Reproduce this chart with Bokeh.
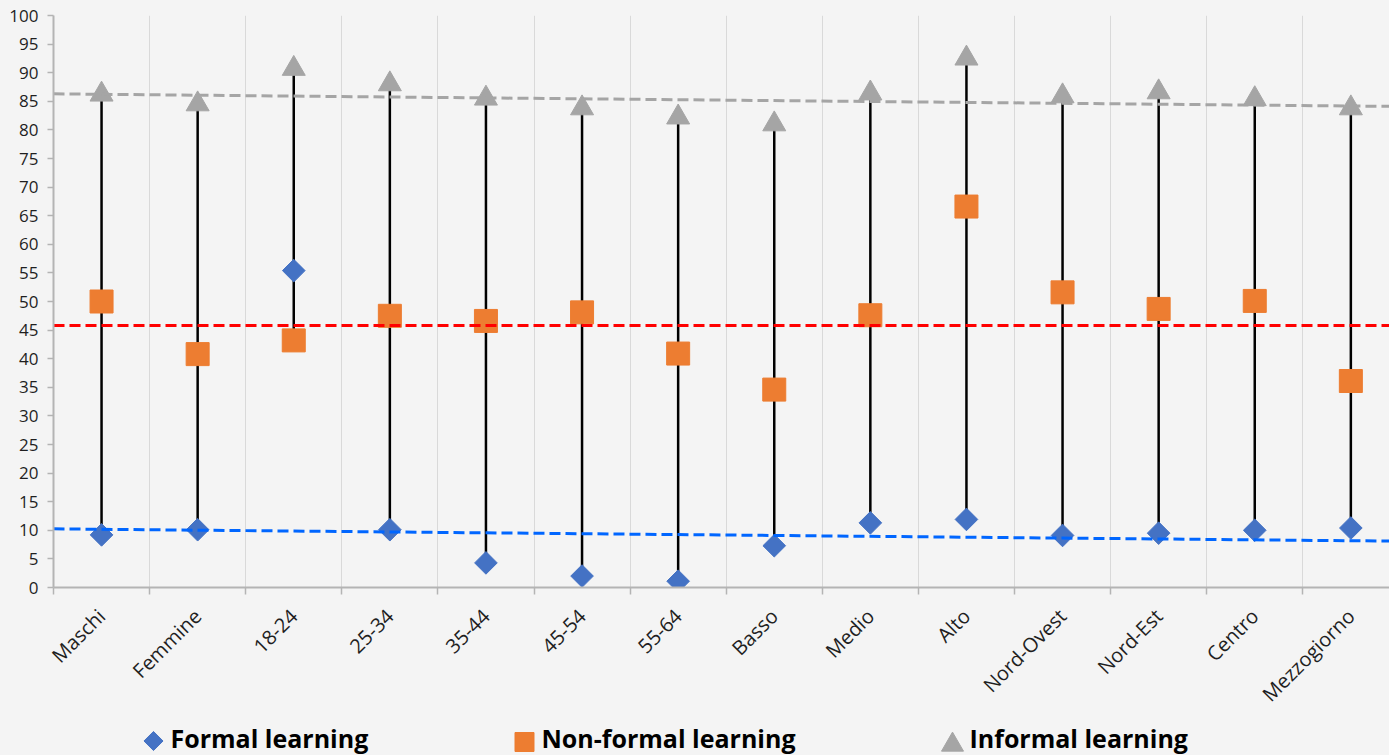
import numpy as np
from bokeh.plotting import figure
from bokeh.layouts import column
from bokeh.models import Range1d, FixedTicker, ColumnDataSource
from bokeh.core.properties import value
from bokeh.embed import file_html
from bokeh.resources import INLINE

# Participation rates (%) by group
categories = ["Maschi", "Femmine", "18-24", "25-34", "35-44", "45-54", "55-64",
              "Basso", "Medio", "Alto", "Nord-Ovest", "Nord-Est", "Centro", "Mezzogiorno"]
formal = [9.2, 10.1, 55.4, 10.1, 4.3, 2.0, 1.1, 7.3, 11.3, 11.9, 9.1, 9.5, 10.0, 10.4]
non_formal = [50.0, 40.8, 43.2, 47.5, 46.6, 48.1, 40.9, 34.6, 47.6, 66.6, 51.6, 48.7, 50.1, 36.1]
informal = [86.2, 84.5, 90.7, 88.0, 85.5, 83.8, 82.2, 81.0, 86.4, 92.5, 85.9, 86.6, 85.4, 83.8]

# Trend / reference lines (value at first and last category boundary)
formal_trend = [10.25, 8.1]
informal_trend = [86.3, 84.1]
non_formal_ref = [45.8, 45.8]

series_names = ["Formal learning", "Non-formal learning", "Informal learning"]
y_ticks = list(range(0, 101, 5))

BG = "#f4f4f4"
BLUE = "#4472c4"
ORANGE = "#ed7d31"
GRAY = "#a5a5a5"
AXIS = "#b4b4b4"
TXT = "#1f1f1f"
FONT = "Open Sans"

n = len(categories)
xs = np.arange(1, n + 1)
bounds = [i + 0.5 for i in range(0, n + 1)]
low = np.minimum.reduce([formal, non_formal, informal])
high = np.maximum.reduce([formal, non_formal, informal])

src = ColumnDataSource(dict(x=xs, cat=categories, formal=formal, non_formal=non_formal,
                            informal=informal, low=low, high=high))

p = figure(width=1389, height=719,
           x_range=Range1d(0.5, 0.5 + 1336 / 96.1), y_range=Range1d(0, 100),
           output_backend="svg", toolbar_location=None,
           min_border_left=53, min_border_right=0, min_border_top=15, min_border_bottom=132,
           background_fill_color=BG, border_fill_color=BG, outline_line_color=None)

# high-low stems
p.segment(x0="x", y0="low", x1="x", y1="high", source=src, line_color="black", line_width=2.5)

# markers
p.scatter(x="x", y="formal", source=src, marker="square", angle=np.pi / 4, size=16,
          fill_color=BLUE, line_color=BLUE)
p.scatter(x="x", y="non_formal", source=src, marker="square", size=23,
          fill_color=ORANGE, line_color=ORANGE)
p.scatter(x="x", y="informal", source=src, marker="triangle", size=23,
          fill_color=GRAY, line_color=GRAY)

# trend and reference lines
ends = [bounds[0], bounds[-1]]
p.line(ends, informal_trend, line_color=GRAY, line_width=3, line_dash="11 5")
p.line(ends, non_formal_ref, line_color="#ff0000", line_width=3, line_dash="11 5")
p.line(ends, formal_trend, line_color="#0066ff", line_width=3, line_dash="11 5")

# axes
xa = p.xaxis[0]
xa.ticker = FixedTicker(ticks=list(xs), minor_ticks=bounds)
xa.major_label_overrides = {int(i): c for i, c in zip(xs, categories)}
xa.major_label_orientation = np.pi / 4
xa.major_tick_out = 0
xa.major_tick_in = 0
xa.minor_tick_out = 7
xa.minor_tick_in = 0
xa.minor_tick_line_color = AXIS
xa.minor_tick_line_width = 1.5
xa.axis_line_color = AXIS
xa.axis_line_width = 2
xa.major_label_text_font = FONT
xa.major_label_text_font_size = "20px"
xa.major_label_text_color = TXT
xa.major_label_standoff = 18

ya = p.yaxis[0]
ya.ticker = FixedTicker(ticks=y_ticks)
ya.major_tick_out = 6
ya.major_tick_in = 0
ya.minor_tick_out = 0
ya.minor_tick_in = 0
ya.major_tick_line_color = AXIS
ya.major_tick_line_width = 1.5
ya.axis_line_color = AXIS
ya.axis_line_width = 2
ya.major_label_text_font = FONT
ya.major_label_text_font_size = "17px"
ya.major_label_text_color = TXT
ya.major_label_standoff = 9

p.ygrid.grid_line_color = None
p.xgrid.ticker = FixedTicker(ticks=bounds[1:])
p.xgrid.grid_line_color = "#d9d9d9"
p.xgrid.grid_line_width = 1

# legend strip (screen-pixel coordinates, measured from the strip's bottom)
q = figure(width=1389, height=36, x_range=Range1d(53, 1389), y_range=Range1d(0, 36),
           x_axis_location=None, y_axis_location=None,
           output_backend="svg", toolbar_location=None,
           min_border=0, min_border_left=53, min_border_right=0,
           background_fill_color=BG, border_fill_color=BG, outline_line_color=None)
q.grid.visible = False
q.scatter(x=[153], y=[14.5], marker="square", angle=np.pi / 4, size=13.5,
          fill_color=BLUE, line_color=BLUE)
q.scatter(x=[524], y=[13.5], marker="square", size=19, fill_color=ORANGE, line_color=ORANGE)
q.scatter(x=[952], y=[10.7], marker="triangle", size=22, fill_color=GRAY, line_color=GRAY)
q.text(x=[170, 541, 969], y=[17.5, 17.5, 17.5], text=series_names,
       text_font=value(FONT), text_font_style="bold", text_font_size="25px",
       text_color="black", text_baseline="alphabetic")

layout = column(p, q, spacing=0)
html = file_html(layout, INLINE)
html = html.replace("</head>", "<style>html, body {background: %s; margin: 0;}</style></head>" % BG, 1)
open("out.html", "w").write(html)
